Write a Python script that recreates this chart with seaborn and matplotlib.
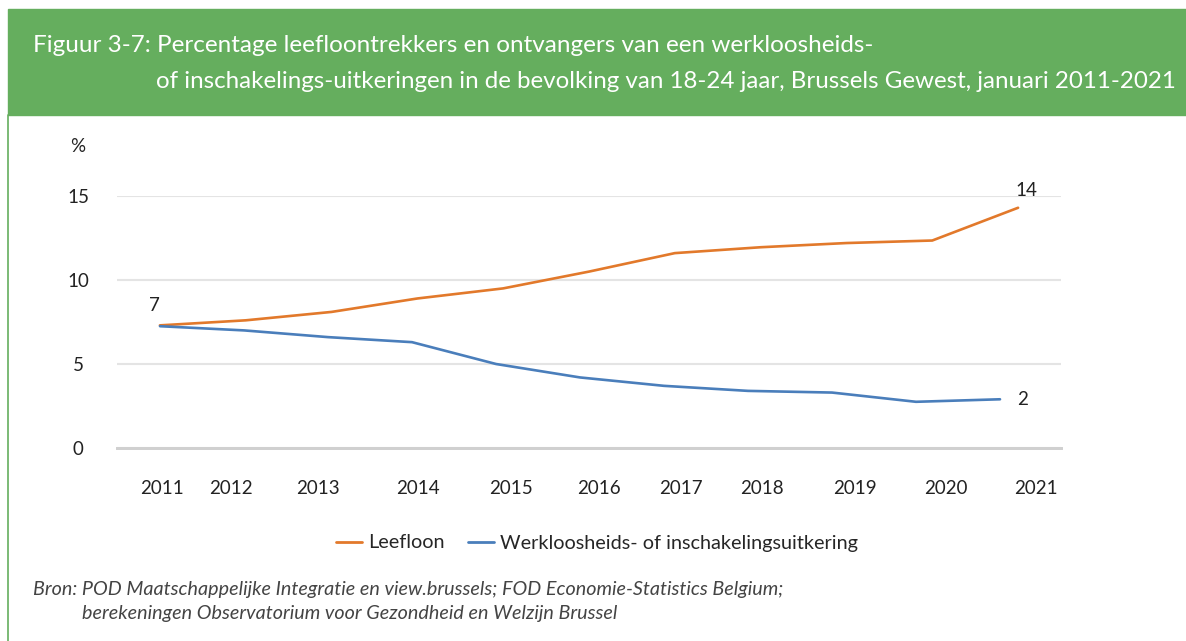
import numpy as np
import pandas as pd
import matplotlib.pyplot as plt
import matplotlib.patches as mpatches
from matplotlib.lines import Line2D
import seaborn as sns

sns.set_style("white")
plt.rcParams['font.family'] = ['Lato', 'DejaVu Sans']

# data (%)
years = ["2011", "2012", "2013", "2014", "2015", "2016", "2017", "2018", "2019", "2020", "2021"]
leefloon = [7.3, 7.6, 8.1, 8.9, 9.5, 10.5, 11.6, 11.95, 12.2, 12.35, 14.3]
werkloos = [7.25, 7.0, 6.6, 6.3, 5.0, 4.2, 3.7, 3.4, 3.3, 2.75, 2.9]
yticks = [0, 5, 10, 15]

# tick labels in the original are not evenly spaced
tick_pos = [0.02, 0.83, 1.84, 3.01, 4.09, 5.12, 6.07, 7.02, 8.10, 9.16, 10.21]

orange = "#E2792B"
blue = "#4A7EBB"
green = "#65AE5E"

df = pd.DataFrame({"idx": np.arange(len(years)), "Leefloon": leefloon,
                   "Werkloos": werkloos})

fig = plt.figure(figsize=(11.86, 6.41), dpi=100)

# green header band + thin left border
fig.patches.append(mpatches.Rectangle((8/1186, 1-115/641), 1, 106/641,
                                      transform=fig.transFigure, color=green, zorder=0))
fig.add_artist(Line2D([8/1186, 8/1186], [0, 1-115/641], transform=fig.transFigure,
                      color=green, lw=1.2))

fig.text(33/1186, 1-45/641, "Figuur 3-7: Percentage leefloontrekkers en ontvangers van een werkloosheids-",
         color="white", fontsize=17.5, va="center", ha="left")
fig.text(1176/1186, 1-81/641, "of inschakelings-uitkeringen in de bevolking van 18-24 jaar, Brussels Gewest, januari 2011-2021",
         color="white", fontsize=17.4, va="center", ha="right")

ax = fig.add_axes([117/1186, 1-448/641, (1061-117)/1186, (448-196)/641])
ax2 = ax.twiny()

sns.lineplot(data=df, x="idx", y="Leefloon", ax=ax, color=orange, lw=1.9, clip_on=False)
sns.lineplot(data=df, x="idx", y="Werkloos", ax=ax2, color=blue, lw=1.9, clip_on=False)

ax.set_xlim(-0.5, 10.5)
ax2.set_xlim(-0.512, 10.726)
ax.set_ylim(0, 15)

ax.set_yticks(yticks)
ax.set_yticklabels([str(v) for v in yticks])
ax.set_xticks(tick_pos)
ax.set_xticklabels(years)
ax.tick_params(axis="x", length=0, pad=23, labelsize=13.5, labelcolor="#222222")
ax.tick_params(axis="y", length=0, pad=28, labelsize=13.5, labelcolor="#222222")
plt.setp(ax.get_yticklabels(), ha="center")
ax.set_xlabel("")
ax.set_ylabel("")
ax2.set_xticks([])
ax2.set_xlabel("")
ax2.set_ylabel("")

ax.yaxis.grid(True, color="#e4e4e4", lw=1.5)
ax.set_axisbelow(True)
for a in (ax, ax2):
    for s in ["top", "right", "left"]:
        a.spines[s].set_visible(False)
    a.spines["bottom"].set_color("#d0d0d0")
    a.spines["bottom"].set_linewidth(2)

fig.text(78/1186, 1-147/641, "%", fontsize=13.5, ha="center", va="center", color="#222222")

# value labels at the ends (whole numbers, truncated as in the original)
ax.annotate(str(int(leefloon[0])), (0, leefloon[0]), xytext=(-4, 8), textcoords="offset points",
            ha="center", va="bottom", fontsize=13.5, color="#222222")
ax.annotate(str(int(leefloon[-1])), (10, leefloon[-1]), xytext=(-2, 6), textcoords="offset points",
            ha="left", va="bottom", fontsize=13.5, color="#222222")
ax2.annotate(str(int(werkloos[-1])), (10, werkloos[-1]), xytext=(12, 0), textcoords="offset points",
             ha="left", va="center", fontsize=13.5, color="#222222")

handles = [Line2D([], [], color=orange, lw=2), Line2D([], [], color=blue, lw=2)]
fig.legend(handles, ["Leefloon", "Werkloosheids- of inschakelingsuitkering"],
           loc="center", bbox_to_anchor=(597/1186, 1-543/641), ncol=2, frameon=False,
           fontsize=14.3, handlelength=1.3, handletextpad=0.3, columnspacing=1.2)

fig.text(33/1186, 1-590/641, "Bron: POD Maatschappelijke Integratie en view.brussels; FOD Economie-Statistics Belgium;",
         fontsize=14.2, style="italic", color="#444444", va="center")
fig.text(82/1186, 1-613/641, "berekeningen Observatorium voor Gezondheid en Welzijn Brussel",
         fontsize=14.2, style="italic", color="#444444", va="center")

fig.savefig("out.png", dpi=100)
